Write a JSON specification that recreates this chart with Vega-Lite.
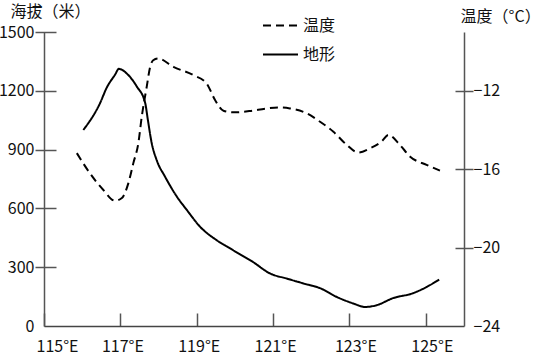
{
  "$schema": "https://vega.github.io/schema/vega-lite/v6.json",
  "width": 420,
  "height": 294,
  "autosize": {"type": "none"},
  "padding": {"left": 44, "top": 32, "right": 74, "bottom": 31},
  "background": "white",
  "config": {
    "view": {"stroke": null},
    "font": "Noto Sans CJK SC",
    "axis": {
      "grid": false,
      "labelFont": "Noto Sans CJK SC",
      "labelFontSize": 16,
      "labelColor": "#111",
      "titleFont": "Noto Sans CJK SC",
      "titleFontSize": 16,
      "titleFontWeight": "normal",
      "titleColor": "#111",
      "domainColor": "#555",
      "tickColor": "#555",
      "domainWidth": 1.5,
      "tickWidth": 1.5
    }
  },
  "data": {
    "values": [
      {"lon": 116.03, "value": 1000, "series": "地形"},
      {"lon": 116.47, "value": 1138, "series": "地形"},
      {"lon": 116.64, "value": 1215, "series": "地形"},
      {"lon": 116.86, "value": 1282, "series": "地形"},
      {"lon": 116.96, "value": 1312, "series": "地形"},
      {"lon": 117.2, "value": 1282, "series": "地形"},
      {"lon": 117.43, "value": 1222, "series": "地形"},
      {"lon": 117.65, "value": 1138, "series": "地形"},
      {"lon": 117.72, "value": 1052, "series": "地形"},
      {"lon": 117.82, "value": 934, "series": "地形"},
      {"lon": 117.95, "value": 847, "series": "地形"},
      {"lon": 118.17, "value": 762, "series": "地形"},
      {"lon": 118.48, "value": 660, "series": "地形"},
      {"lon": 118.74, "value": 592, "series": "地形"},
      {"lon": 119.09, "value": 506, "series": "地形"},
      {"lon": 119.52, "value": 438, "series": "地形"},
      {"lon": 119.95, "value": 387, "series": "地形"},
      {"lon": 120.47, "value": 327, "series": "地形"},
      {"lon": 120.92, "value": 268, "series": "地形"},
      {"lon": 121.36, "value": 242, "series": "地形"},
      {"lon": 121.78, "value": 218, "series": "地形"},
      {"lon": 122.23, "value": 193, "series": "地形"},
      {"lon": 122.67, "value": 148, "series": "地形"},
      {"lon": 123.1, "value": 115, "series": "地形"},
      {"lon": 123.41, "value": 97, "series": "地形"},
      {"lon": 123.71, "value": 106, "series": "地形"},
      {"lon": 124.14, "value": 142, "series": "地形"},
      {"lon": 124.66, "value": 167, "series": "地形"},
      {"lon": 125.02, "value": 199, "series": "地形"},
      {"lon": 125.35, "value": 237, "series": "地形"},
      {"lon": 115.86, "value": -15.18, "series": "温度"},
      {"lon": 116.2, "value": -16.2, "series": "温度"},
      {"lon": 116.55, "value": -17.05, "series": "温度"},
      {"lon": 116.86, "value": -17.61, "series": "温度"},
      {"lon": 117.04, "value": -17.47, "series": "温度"},
      {"lon": 117.21, "value": -16.71, "series": "温度"},
      {"lon": 117.34, "value": -15.69, "series": "温度"},
      {"lon": 117.47, "value": -14.68, "series": "温度"},
      {"lon": 117.56, "value": -13.32, "series": "温度"},
      {"lon": 117.69, "value": -11.8, "series": "温度"},
      {"lon": 117.78, "value": -10.78, "series": "温度"},
      {"lon": 117.86, "value": -10.44, "series": "温度"},
      {"lon": 117.99, "value": -10.35, "series": "温度"},
      {"lon": 118.39, "value": -10.78, "series": "温度"},
      {"lon": 118.91, "value": -11.2, "series": "温度"},
      {"lon": 119.26, "value": -11.63, "series": "温度"},
      {"lon": 119.48, "value": -12.47, "series": "温度"},
      {"lon": 119.7, "value": -13.02, "series": "温度"},
      {"lon": 119.96, "value": -13.1, "series": "温度"},
      {"lon": 120.4, "value": -13.03, "series": "温度"},
      {"lon": 120.83, "value": -12.9, "series": "温度"},
      {"lon": 121.14, "value": -12.85, "series": "温度"},
      {"lon": 121.44, "value": -12.9, "series": "温度"},
      {"lon": 121.88, "value": -13.15, "series": "温度"},
      {"lon": 122.23, "value": -13.58, "series": "温度"},
      {"lon": 122.58, "value": -14.09, "series": "温度"},
      {"lon": 122.93, "value": -14.76, "series": "温度"},
      {"lon": 123.23, "value": -15.15, "series": "温度"},
      {"lon": 123.54, "value": -14.93, "series": "温度"},
      {"lon": 123.84, "value": -14.59, "series": "温度"},
      {"lon": 124.02, "value": -14.25, "series": "温度"},
      {"lon": 124.32, "value": -14.76, "series": "温度"},
      {"lon": 124.59, "value": -15.36, "series": "温度"},
      {"lon": 125.02, "value": -15.78, "series": "温度"},
      {"lon": 125.37, "value": -16.07, "series": "温度"}
    ]
  },
  "encoding": {
    "x": {
      "field": "lon",
      "type": "quantitative",
      "scale": {"domain": [115, 126], "nice": false, "zero": false},
      "axis": {
        "title": null,
        "values": [115, 117, 119, 121, 123, 125],
        "labelExpr": "datum.value + '°E'",
        "tickSize": -13,
        "labelPadding": 25,
        "labelFlush": false,
        "labelOffset": {"condition": [{"test": "datum.value == 115", "value": 13}, {"test": "datum.value >= 123", "value": 6}], "value": 2},
        "domainColor": "#444"
      }
    }
  },
  "layer": [
    {
      "transform": [{"filter": "datum.series == '地形'"}],
      "mark": {"type": "line", "color": "black", "strokeWidth": 2, "interpolate": "monotone"},
      "encoding": {
        "y": {
          "field": "value",
          "type": "quantitative",
          "scale": {"domain": [0, 1500], "nice": false, "zero": false},
          "axis": {
            "orient": "left",
            "title": "海拔（米）",
            "values": [0, 300, 600, 900, 1200, 1500],
            "format": "d",
            "offset": -12,
            "domain": false,
            "tickSize": 21,
            "labelPadding": 1,
            "tickColor": {"condition": {"test": "datum.value == 0", "value": "transparent"}, "value": "#555"},
            "titleAngle": 0,
            "titleAlign": "left",
            "titleBaseline": "middle",
            "titleX": -46,
            "titleY": -21
          }
        },
        "strokeDash": {
          "field": "series",
          "type": "nominal",
          "scale": {"domain": ["温度", "地形"], "range": [[8, 5], [1, 0]]},
          "legend": {
            "title": null,
            "orient": "none",
            "legendX": 218,
            "legendY": -25,
            "padding": 0,
            "symbolType": "stroke",
            "symbolSize": 1225,
            "symbolStrokeWidth": 2,
            "symbolStrokeColor": "black",
            "labelFont": "Noto Sans CJK SC",
            "labelFontSize": 16,
            "labelColor": "#111",
            "labelOffset": 4,
            "rowPadding": 2
          }
        }
      }
    },
    {
      "transform": [{"filter": "datum.series == '温度'"}],
      "mark": {"type": "line", "color": "black", "strokeWidth": 2, "interpolate": "monotone"},
      "encoding": {
        "y": {
          "field": "value",
          "type": "quantitative",
          "scale": {"domain": [-24, -9], "nice": false, "zero": false},
          "axis": {
            "orient": "right",
            "title": "温度（°C）",
            "values": [-24, -20, -16, -12],
            "offset": -9,
            "domain": false,
            "tickSize": 18,
            "labelPadding": 0,
            "tickColor": {"condition": {"test": "datum.value == -24", "value": "transparent"}, "value": "#555"},
            "titleAngle": 0,
            "titleAlign": "left",
            "titleBaseline": "middle",
            "titleX": 5,
            "titleY": -16
          }
        },
        "strokeDash": {"field": "series", "type": "nominal"}
      }
    },
    {
      "transform": [{"filter": "datum.series == '地形'"}],
      "mark": {"type": "line", "opacity": 0},
      "encoding": {
        "y": {
          "field": "value",
          "type": "quantitative",
          "scale": {"domain": [0, 1500], "nice": false, "zero": false},
          "axis": {"orient": "left", "labels": false, "ticks": false, "domain": true, "title": null}
        }
      }
    },
    {
      "transform": [{"filter": "datum.series == '温度'"}],
      "mark": {"type": "line", "opacity": 0},
      "encoding": {
        "y": {
          "field": "value",
          "type": "quantitative",
          "scale": {"domain": [-24, -9], "nice": false, "zero": false},
          "axis": {"orient": "right", "labels": false, "ticks": false, "domain": true, "title": null}
        }
      }
    }
  ],
  "resolve": {"scale": {"y": "independent"}}
}
